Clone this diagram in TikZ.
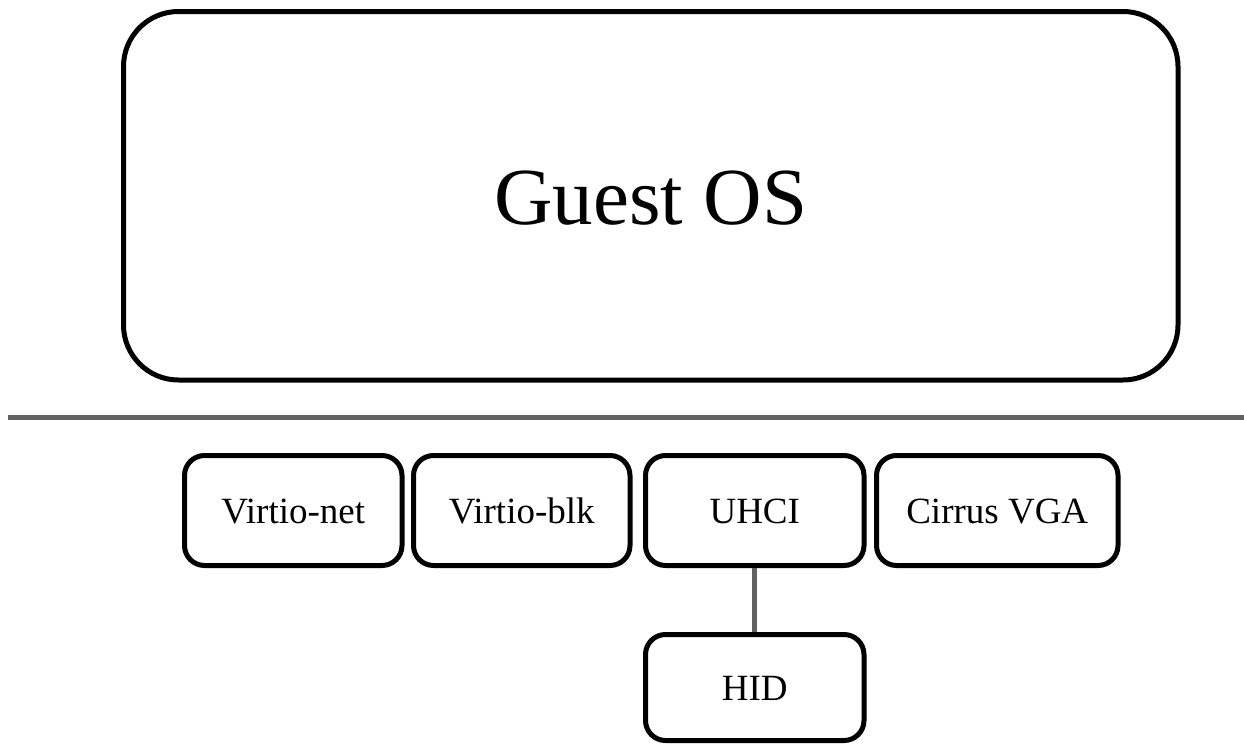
\documentclass[tikz,border=0pt]{standalone}
\usepackage{fontspec}
\setmainfont{Liberation Serif}
\begin{document}
\begin{tikzpicture}[x=1pt,y=-1pt,
  bigbox/.style={draw=black,line width=5pt,rounded corners=55pt,
    inner sep=0pt,text height=58pt,text depth=0pt,font=\fontsize{81}{90}\selectfont},
  devbox/.style={draw=black,line width=5pt,rounded corners=20pt,
    inner sep=0pt,minimum height=110pt,text height=26pt,text depth=0pt,
    font=\fontsize{37}{42}\selectfont},
  link/.style={draw=black!62,line width=5pt}]
\useasboundingbox (0,0) rectangle (1244,744);
% guest operating system
\node[bigbox,minimum width=1054.5pt,minimum height=368.5pt] (guest) at (650.75,195.75) {Guest OS};
% guest / host boundary
\coordinate (sepL) at (8,417);
\coordinate (sepR) at (1244,417);
\draw[link] (sepL) -- (sepR);
% emulated devices
\node[devbox,minimum width=217.5pt] (vnet) at (293.25,510.5) {Virtio-net};
\node[devbox,minimum width=216.5pt] (vblk) at (521.75,510.5) {Virtio-blk};
\node[devbox,minimum width=218.5pt] (uhci) at (754.75,510.5) {UHCI};
\node[devbox,minimum width=241.5pt] (vga) at (997.25,510.5) {Cirrus VGA};
\node[devbox,minimum width=218.5pt,minimum height=106pt] (hid) at (754.75,687.5) {HID};
\draw[link] (uhci.south) -- (hid.north);
\end{tikzpicture}
\end{document}
